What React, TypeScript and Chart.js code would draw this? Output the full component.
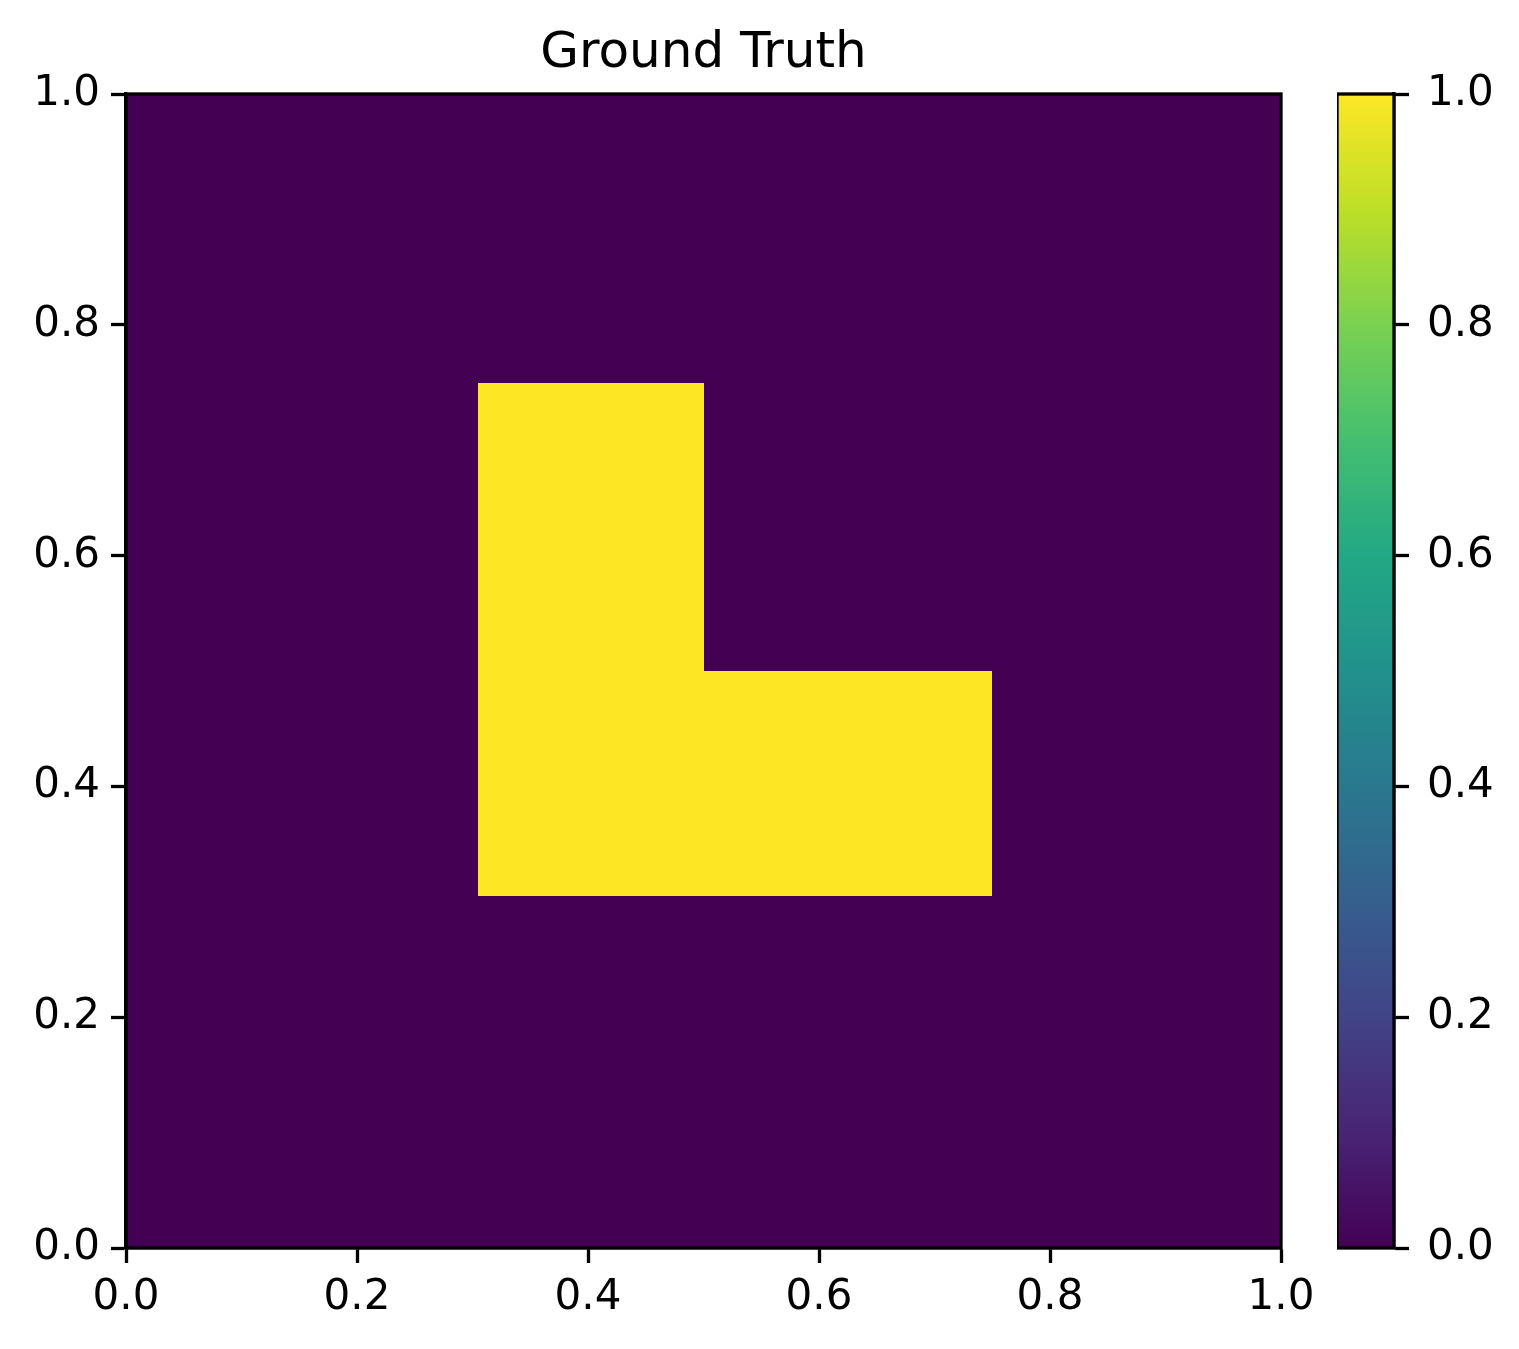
import React, { useEffect, useRef } from "react";
import { Chart, registerables } from "chart.js";

Chart.register(...registerables);

// Cell edges of the ground-truth grid and the cell values (rows bottom -> top)
const xEdges = [0, 0.305, 0.5, 0.75, 1];
const yEdges = [0, 0.305, 0.5, 0.75, 1];
const cellValues = [
  [0, 0, 0, 0],
  [0, 1, 1, 0],
  [0, 1, 0, 0],
  [0, 0, 0, 0],
];
const tickValues = [0, 0.2, 0.4, 0.6, 0.8, 1.0];
const titleText = "Ground Truth";

// viridis stops
const viridis = [
  "#440154", "#482475", "#414487", "#355f8d", "#2a788e", "#21918c",
  "#22a884", "#44bf70", "#7ad151", "#bddf26", "#fde725",
];

function hexToRgb(h: string) {
  const n = parseInt(h.slice(1), 16);
  return [(n >> 16) & 255, (n >> 8) & 255, n & 255];
}
function viridisColor(v: number) {
  const t = Math.max(0, Math.min(1, v)) * (viridis.length - 1);
  const i = Math.min(Math.floor(t), viridis.length - 2);
  const f = t - i;
  const a = hexToRgb(viridis[i]);
  const b = hexToRgb(viridis[i + 1]);
  const c = a.map((x, k) => Math.round(x + (b[k] - x) * f));
  return `rgb(${c[0]},${c[1]},${c[2]})`;
}

const FONT = "'DejaVu Sans', sans-serif";
const W = 1519;
const H = 1349;

const heatmapPlugin = {
  id: "heatmap",
  beforeDatasetsDraw(chart: any) {
    const { ctx, scales } = chart;
    const xs = scales.x;
    const ys = scales.y;
    ctx.save();
    for (let r = 0; r < cellValues.length; r++) {
      for (let c = 0; c < cellValues[r].length; c++) {
        const x0 = Math.round(xs.getPixelForValue(xEdges[c]));
        const x1 = Math.round(xs.getPixelForValue(xEdges[c + 1]));
        const y0 = Math.round(ys.getPixelForValue(yEdges[r]));
        const y1 = Math.round(ys.getPixelForValue(yEdges[r + 1]));
        ctx.fillStyle = viridisColor(cellValues[r][c]);
        ctx.fillRect(Math.min(x0, x1), Math.min(y0, y1), Math.abs(x1 - x0), Math.abs(y1 - y0));
      }
    }
    ctx.restore();
  },
  afterDraw(chart: any) {
    const { ctx, chartArea } = chart;
    ctx.save();
    ctx.strokeStyle = "#000";
    ctx.lineWidth = 3.3;
    ctx.strokeRect(chartArea.left, chartArea.top, chartArea.right - chartArea.left, chartArea.bottom - chartArea.top);
    ctx.restore();
  },
};

const colorbarPlugin = {
  id: "colorbar",
  beforeDatasetsDraw(chart: any) {
    const { ctx, chartArea, scales } = chart;
    const ys = scales.y;
    const g = ctx.createLinearGradient(0, ys.getPixelForValue(0), 0, ys.getPixelForValue(1));
    viridis.forEach((c, i) => g.addColorStop(i / (viridis.length - 1), c));
    ctx.save();
    ctx.fillStyle = g;
    ctx.fillRect(chartArea.left, chartArea.top, chartArea.right - chartArea.left, chartArea.bottom - chartArea.top);
    ctx.restore();
  },
  afterDraw(chart: any) {
    const { ctx, chartArea } = chart;
    ctx.save();
    ctx.strokeStyle = "#000";
    ctx.lineWidth = 3.3;
    ctx.strokeRect(chartArea.left, chartArea.top, chartArea.right - chartArea.left, chartArea.bottom - chartArea.top);
    ctx.restore();
  },
};

const tickFont = { family: FONT, size: 42 };
const fmt = (v: any) => Number(v).toFixed(1);

export default function App() {
  const mainRef = useRef<HTMLCanvasElement>(null);
  const cbRef = useRef<HTMLCanvasElement>(null);

  useEffect(() => {
    const main = new Chart(mainRef.current!, {
      type: "scatter",
      data: { datasets: [{ data: [], pointRadius: 0 }] },
      plugins: [heatmapPlugin],
      options: {
        animation: false,
        responsive: false,
        devicePixelRatio: 1,
        layout: { padding: { left: 0, right: W - 1281, top: 0, bottom: 0 } },
        plugins: {
          legend: { display: false },
          tooltip: { enabled: false },
          title: {
            display: true,
            fullSize: false,
            text: titleText,
            color: "#000",
            font: { family: FONT, size: 50, weight: "normal", lineHeight: 1.2 },
            padding: { top: 24, bottom: 10 },
          },
        },
        scales: {
          x: {
            type: "linear",
            min: 0,
            max: 1,
            afterFit: (s: any) => { s.height = H - 1248; },
            afterBuildTicks: (s: any) => { s.ticks = tickValues.map((v) => ({ value: v })); },
            grid: { display: true, drawOnChartArea: false, tickLength: 15, tickWidth: 3.3, tickColor: "#000" },
            border: { display: true, color: "#000", width: 3.3 },
            ticks: { color: "#000", font: tickFont, padding: 10, maxRotation: 0, callback: fmt },
          },
          y: {
            type: "linear",
            min: 0,
            max: 1,
            afterFit: (s: any) => { s.width = 126; },
            afterBuildTicks: (s: any) => { s.ticks = tickValues.map((v) => ({ value: v })); },
            grid: { display: true, drawOnChartArea: false, tickLength: 15, tickWidth: 3.3, tickColor: "#000" },
            border: { display: true, color: "#000", width: 3.3 },
            ticks: { color: "#000", font: tickFont, padding: 11, callback: fmt },
          },
        },
      },
    } as any);

    const cb = new Chart(cbRef.current!, {
      type: "scatter",
      data: { datasets: [{ data: [], pointRadius: 0 }] },
      plugins: [colorbarPlugin],
      options: {
        animation: false,
        responsive: false,
        devicePixelRatio: 1,
        layout: { padding: { left: 0, right: 0, top: 94, bottom: H - 1248 } },
        plugins: { legend: { display: false }, tooltip: { enabled: false }, title: { display: false } },
        scales: {
          x: { type: "linear", display: false, min: 0, max: 1 },
          y: {
            type: "linear",
            position: "right",
            min: 0,
            max: 1,
            afterFit: (s: any) => { s.width = W - 1394; },
            afterBuildTicks: (s: any) => { s.ticks = tickValues.map((v) => ({ value: v })); },
            grid: { display: true, drawOnChartArea: false, tickLength: 15, tickWidth: 3.3, tickColor: "#000" },
            border: { display: true, color: "#000", width: 3.3 },
            ticks: { color: "#000", font: tickFont, padding: 18, callback: fmt },
          },
        },
      },
    } as any);

    return () => {
      main.destroy();
      cb.destroy();
    };
  }, []);

  return (
    <div style={{ position: "fixed", left: 0, top: 0, width: W, height: H, background: "#fff" }}>
      <canvas ref={mainRef} width={W} height={H} style={{ position: "absolute", left: 0, top: 0, width: W, height: H }} />
      <canvas
        ref={cbRef}
        width={W - 1337}
        height={H}
        style={{ position: "absolute", left: 1337, top: 0, width: W - 1337, height: H }}
      />
    </div>
  );
}
